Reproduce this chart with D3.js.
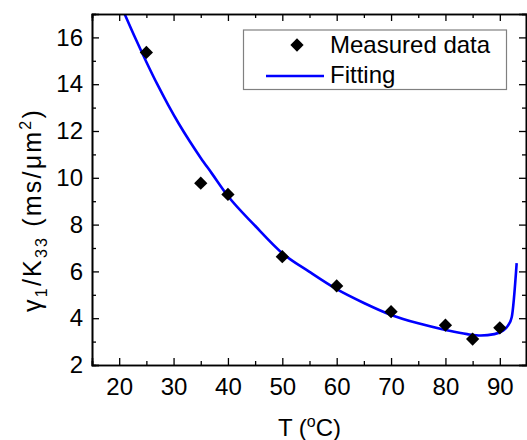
<!DOCTYPE html>
<html>
<head>
<meta charset="utf-8">
<script src="https://cdn.jsdelivr.net/npm/d3@7"></script>
<style>
  html, body { margin: 0; padding: 0; background: #fff; }
  svg { display: block; font-family: "Liberation Sans", Arial, sans-serif; }
</style>
</head>
<body>
<svg id="chart" width="527" height="440"></svg>
<script>
// ---- data ----
const measuredT = [25, 35, 40, 50, 60, 70, 80, 85, 90];
const measuredV = [15.36, 9.77, 9.29, 6.63, 5.38, 4.28, 3.70, 3.11, 3.59];

const fitT = [21, 23, 25, 27, 29, 31, 33, 35, 37, 40, 45, 50, 55, 60, 65, 70, 75, 80, 84, 86.5, 89, 90.5, 91.5, 92.2, 93.1];
const fitV = [17.0, 15.95, 14.95, 14.0, 13.12, 12.3, 11.55, 10.85, 10.2, 9.22, 7.95, 6.78, 5.98, 5.24, 4.65, 4.14, 3.78, 3.5, 3.32, 3.26, 3.32, 3.46, 3.68, 4.05, 6.35];

const xMajorTicks = [20, 30, 40, 50, 60, 70, 80, 90];
const xMinorTicks = [15, 25, 35, 45, 55, 65, 75, 85, 95];
const yMajorTicks = [2, 4, 6, 8, 10, 12, 14, 16];
const yMinorTicks = [3, 5, 7, 9, 11, 13, 15, 17];

const legendLabels = ["Measured data", "Fitting"];

// ---- layout ----
const svg = d3.select("#chart");
const pLeft = 92, pRight = 527, pTop = 14, pBottom = 365;

const x = d3.scaleLinear().domain([15, 95]).range([pLeft, pRight]);
const y = d3.scaleLinear().domain([2, 17]).range([pBottom, pTop]);

const clipId = "plotclip";
svg.append("defs").append("clipPath").attr("id", clipId)
  .append("rect").attr("x", pLeft).attr("y", pTop).attr("width", pRight - pLeft).attr("height", pBottom - pTop);

// fitting curve
const line = d3.line().x((d, i) => x(fitT[i])).y((d, i) => y(fitV[i])).curve(d3.curveMonotoneX);
svg.append("path")
  .datum(fitV)
  .attr("clip-path", `url(#${clipId})`)
  .attr("d", line)
  .attr("fill", "none")
  .attr("stroke", "#0000ff")
  .attr("stroke-width", 2.6);

// measured points
const diamond = d3.symbol().type(d3.symbolSquare).size(88);
svg.append("g").selectAll("path")
  .data(measuredT)
  .join("path")
  .attr("d", diamond)
  .attr("transform", (d, i) => `translate(${x(d)},${y(measuredV[i])}) rotate(45)`)
  .attr("fill", "#000");

// axes
function styleAxis(g) {
  g.selectAll(".domain").attr("stroke", "#000").attr("stroke-width", 1.6);
  g.selectAll(".tick line").attr("stroke", "#000").attr("stroke-width", 1.3);
  g.selectAll(".tick text").attr("fill", "#000").style("font-size", "24px")
    .style("font-family", '"Liberation Sans", Arial, sans-serif');
}

// bottom
svg.append("g").attr("transform", `translate(0,${pBottom})`)
  .call(d3.axisBottom(x).tickValues(xMinorTicks).tickSize(-4).tickFormat(""))
  .call(styleAxis);
svg.append("g").attr("transform", `translate(0,${pBottom})`)
  .call(d3.axisBottom(x).tickValues(xMajorTicks).tickSize(-7).tickPadding(13).tickFormat(d3.format("d")))
  .call(styleAxis);
// top
svg.append("g").attr("transform", `translate(0,${pTop})`)
  .call(d3.axisTop(x).tickValues(xMinorTicks).tickSize(-4).tickFormat(""))
  .call(styleAxis);
svg.append("g").attr("transform", `translate(0,${pTop})`)
  .call(d3.axisTop(x).tickValues(xMajorTicks).tickSize(-7).tickFormat(""))
  .call(styleAxis);
// left
svg.append("g").attr("transform", `translate(${pLeft},0)`)
  .call(d3.axisLeft(y).tickValues(yMinorTicks).tickSize(-4).tickFormat(""))
  .call(styleAxis);
svg.append("g").attr("transform", `translate(${pLeft},0)`)
  .call(d3.axisLeft(y).tickValues(yMajorTicks).tickSize(-7).tickPadding(9).tickFormat(d3.format("d")))
  .call(styleAxis);
// right
svg.append("g").attr("transform", `translate(${pRight - 1},0)`)
  .call(d3.axisRight(y).tickValues(yMinorTicks).tickSize(-4).tickFormat(""))
  .call(styleAxis);
svg.append("g").attr("transform", `translate(${pRight - 1},0)`)
  .call(d3.axisRight(y).tickValues(yMajorTicks).tickSize(-7).tickFormat(""))
  .call(styleAxis);

// x title
const xt = svg.append("text")
  .attr("x", (pLeft + pRight) / 2)
  .attr("y", 436)
  .attr("text-anchor", "middle")
  .style("font-size", "24px")
  .attr("fill", "#000");
xt.append("tspan").text("T (");
xt.append("tspan").attr("dy", -9).style("font-size", "16px").text("o");
xt.append("tspan").attr("dy", 9).text("C)");

// y title
const yt = svg.append("text")
  .attr("transform", `translate(41,210) rotate(-90)`)
  .attr("text-anchor", "middle")
  .style("font-size", "25px")
  .style("letter-spacing", "2.2px")
  .attr("fill", "#000");
yt.append("tspan").text("γ");
yt.append("tspan").attr("dy", 6).style("font-size", "16px").text("1");
yt.append("tspan").attr("dy", -6).text("/K");
yt.append("tspan").attr("dy", 6).style("font-size", "16px").text("33");
yt.append("tspan").attr("dy", -6).text(" (ms/μm");
yt.append("tspan").attr("dy", -10).style("font-size", "16px").text("2");
yt.append("tspan").attr("dy", 10).text(")");

// legend
const lg = svg.append("g");
lg.append("rect")
  .attr("x", 243.5).attr("y", 30)
  .attr("width", 263).attr("height", 59.5)
  .attr("fill", "#fff")
  .attr("stroke", "#808080")
  .attr("stroke-width", 1.2);
lg.append("path")
  .attr("d", diamond)
  .attr("transform", "translate(297,45) rotate(45)")
  .attr("fill", "#000");
lg.append("line")
  .attr("x1", 266).attr("x2", 324)
  .attr("y1", 76).attr("y2", 76)
  .attr("stroke", "#0000ff").attr("stroke-width", 2.6);
lg.selectAll("text.lab")
  .data(legendLabels)
  .join("text")
  .attr("class", "lab")
  .attr("x", 330)
  .attr("y", (d, i) => 53 + i * 30)
  .style("font-size", "24px")
  .attr("fill", "#000")
  .text(d => d);
</script>
</body>
</html>
